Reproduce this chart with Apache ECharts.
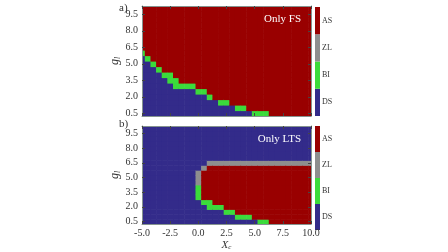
<!DOCTYPE html>
<html>
<head>
<meta charset="utf-8">
<script src="https://cdn.jsdelivr.net/npm/echarts@6/dist/echarts.min.js"></script>
<style>
html, body { margin: 0; padding: 0; background: #fff; }
#chart { width: 448px; height: 252px; }
</style>
</head>
<body>
<div id="chart"></div>
<script>
// grid of the phase map: columns are X_c, rows are g_l
var xValues = [-5.0, -4.5, -4.0, -3.5, -3.0, -2.5, -2.0, -1.5, -1.0, -0.5, 0.0, 0.5, 1.0, 1.5, 2.0, 2.5,
	3.0, 3.5, 4.0, 4.5, 5.0, 5.5, 6.0, 6.5, 7.0, 7.5, 8.0, 8.5, 9.0, 9.5, 10.0];
var yValues = [0.5, 1.0, 1.5, 2.0, 2.5, 3.0, 3.5, 4.0, 4.5, 5.0, 5.5, 6.0, 6.5, 7.0, 7.5, 8.0, 8.5, 9.0, 9.5, 10.0];
var xTicks = [-5.0, -2.5, 0.0, 2.5, 5.0, 7.5, 10.0];
var yTicks = [0.5, 2.0, 3.5, 5.0, 6.5, 8.0, 9.5];
var states = ['DS', 'BI', 'ZL', 'AS'];
var stateColors = ['#332b8a', '#3bdb3b', '#8e8e8e', '#990000'];

// a) Only FS : highest row index of each band, per column (-1 = none)
var dsTopA = [10, 9, 8, 7, 6, 5, 4, 4, 4, 4, 3, 3, 2, 2, 1, 1, 1, 0, 0, 0, -1, -1, -1, -1, -1, -1, -1, -1, -1, -1, -1];
var biTopA = [11, 10, 9, 8, 7, 7, 6, 5, 5, 5, 4, 4, 3, 2, 2, 2, 1, 1, 1, 0, 0, 0, 0, -1, -1, -1, -1, -1, -1, -1, -1];
var asTopA = [19, 19, 19, 19, 19, 19, 19, 19, 19, 19, 19, 19, 19, 19, 19, 19, 19, 19, 19, 19, 19, 19, 19, 19, 19, 19, 19, 19, 19, 19, 19];
var zlTopA = [19, 19, 19, 19, 19, 19, 19, 19, 19, 19, 19, 19, 19, 19, 19, 19, 19, 19, 19, 19, 19, 19, 19, 19, 19, 19, 19, 19, 19, 19, 19];

// b) Only LTS
var dsTopB = [19, 19, 19, 19, 19, 19, 19, 19, 19, 19, 4, 3, 2, 2, 2, 1, 1, 0, 0, 0, 0, -1, -1, -1, -1, -1, -1, -1, -1, -1, -1];
var biTopB = [19, 19, 19, 19, 19, 19, 19, 19, 19, 19, 7, 4, 4, 3, 3, 2, 2, 1, 1, 1, 0, 0, 0, -1, -1, -1, -1, -1, -1, -1, -1];
var asTopB = [19, 19, 19, 19, 19, 19, 19, 19, 19, 19, 7, 10, 11, 11, 11, 11, 11, 11, 11, 11, 11, 11, 11, 11, 11, 11, 11, 11, 11, 11, 11];
var zlTopB = [19, 19, 19, 19, 19, 19, 19, 19, 19, 19, 10, 11, 12, 12, 12, 12, 12, 12, 12, 12, 12, 12, 12, 12, 12, 12, 12, 12, 12, 12, 12];

var barValues = [1, 1, 1, 1];

var FONT = 'Liberation Serif';

function buildCells(dsTop, biTop, asTop, zlTop) {
	var cells = [];
	for (var i = 0; i < xValues.length; i++) {
		for (var j = 0; j < yValues.length; j++) {
			var s;
			if (j <= dsTop[i]) s = 0;
			else if (j <= biTop[i]) s = 1;
			else if (j <= asTop[i]) s = 3;
			else if (j <= zlTop[i]) s = 2;
			else s = 0;
			cells.push([xValues[i], yValues[j], s]);
		}
	}
	return cells;
}

function renderCell(params, api) {
	var x = api.value(0), y = api.value(1);
	var p0 = api.coord([x - 0.25, y + 0.25]);
	var p1 = api.coord([x + 0.25, y - 0.25]);
	var cs = params.coordSys;
	var rect = echarts.graphic.clipRectByRect({
		x: p0[0], y: p0[1], width: p1[0] - p0[0] + 0.6, height: p1[1] - p0[1] + 0.6
	}, { x: cs.x, y: cs.y, width: cs.width, height: cs.height });
	if (!rect) return;
	return { type: 'rect', shape: rect, style: { fill: stateColors[api.value(2)] } };
}

function fmt(v) { return Number(v).toFixed(1); }

var frame = { show: true, onZero: false, lineStyle: { color: '#85938f', width: 1 } };
var ticks = { show: true, inside: true, length: 3, lineStyle: { color: '#444' } };
var labelStyle = { fontFamily: FONT, fontSize: 10, color: '#333' };

function xBottom(grid, showLabels) {
	return {
		type: 'value', gridIndex: grid, min: -5, max: 10, interval: 2.5, z: 10,
		axisLine: frame, axisTick: ticks, splitLine: { show: false },
		axisLabel: Object.assign({ show: showLabels, margin: 4, formatter: fmt }, labelStyle),
		name: showLabels ? '{i|X}{s|c}' : '', nameLocation: 'middle', nameGap: 16,
		nameTextStyle: { rich: {
			i: { fontFamily: FONT, fontStyle: 'italic', fontSize: 11, color: '#333' },
			s: { fontFamily: FONT, fontStyle: 'italic', fontSize: 7, color: '#333', verticalAlign: 'bottom', padding: [4, 0, 0, 0] }
		} }
	};
}
function xTop(grid) {
	return {
		type: 'value', gridIndex: grid, position: 'top', min: -5, max: 10, interval: 2.5, z: 10,
		axisLine: frame, axisTick: ticks, splitLine: { show: false }, axisLabel: { show: false }
	};
}
function yLeft(grid) {
	return {
		type: 'value', gridIndex: grid, min: 0.25, max: 10.25, z: 10,
		axisLine: frame, axisTick: Object.assign({ customValues: yTicks }, ticks), splitLine: { show: false },
		axisLabel: Object.assign({ customValues: yTicks, margin: 4, formatter: fmt }, labelStyle),
		name: '{i|g}{s|l}', nameLocation: 'middle', nameGap: 20, nameRotate: 90,
		nameTextStyle: { rich: {
			i: { fontFamily: FONT, fontStyle: 'italic', fontSize: 12, color: '#333' },
			s: { fontFamily: FONT, fontStyle: 'italic', fontSize: 8, color: '#333', padding: [5, 0, 0, 0] }
		} }
	};
}
function yRight(grid) {
	return {
		type: 'value', gridIndex: grid, position: 'right', min: 0.25, max: 10.25, z: 10,
		axisLine: frame, axisTick: Object.assign({ customValues: yTicks }, ticks), splitLine: { show: false },
		axisLabel: { show: false }
	};
}
function cbX(grid) {
	return { type: 'value', gridIndex: grid, min: 0, max: 1, show: false };
}
function cbY(grid) {
	return {
		type: 'category', gridIndex: grid, position: 'right', data: states,
		axisLine: { show: false }, axisTick: { show: false },
		axisLabel: { margin: 2, fontFamily: FONT, fontSize: 8, color: '#333' }
	};
}
function cbSeries(idx) {
	return {
		type: 'bar', xAxisIndex: idx, yAxisIndex: idx, barWidth: '100%', silent: true,
		data: barValues.map(function (v, k) {
			return { value: v, itemStyle: { color: stateColors[k] } };
		})
	};
}

var chart = echarts.init(document.getElementById('chart'), null, { renderer: 'canvas' });
chart.setOption({
	animation: false,
	title: [
		{ text: 'a)', left: 114, top: -2, textStyle: { fontFamily: FONT, fontSize: 11, fontWeight: 'normal', color: '#333' } },
		{ text: 'b)', left: 114, top: 114, textStyle: { fontFamily: FONT, fontSize: 11, fontWeight: 'normal', color: '#333' } },
		{ text: 'Only FS', right: 142, top: 9, textStyle: { fontFamily: FONT, fontSize: 11, fontWeight: 'normal', color: '#fff' } },
		{ text: 'Only LTS', right: 142, top: 129, textStyle: { fontFamily: FONT, fontSize: 11, fontWeight: 'normal', color: '#fff' } }
	],
	grid: [
		{ left: 142, top: 6, width: 169, height: 110 },
		{ left: 142, top: 126, width: 169, height: 105 },
		{ left: 315, top: 7, width: 5, height: 109 },
		{ left: 315, top: 126, width: 5, height: 104 }
	],
	xAxis: [xBottom(0, false), xTop(0), xBottom(1, true), xTop(1), cbX(2), cbX(3)],
	yAxis: [yLeft(0), yRight(0), yLeft(1), yRight(1), cbY(2), cbY(3)],
	series: [
		{ type: 'custom', xAxisIndex: 0, yAxisIndex: 0, renderItem: renderCell, data: buildCells(dsTopA, biTopA, asTopA, zlTopA) },
		{ type: 'custom', xAxisIndex: 2, yAxisIndex: 2, renderItem: renderCell, data: buildCells(dsTopB, biTopB, asTopB, zlTopB) },
		cbSeries(4),
		cbSeries(5)
	]
});
</script>
</body>
</html>
